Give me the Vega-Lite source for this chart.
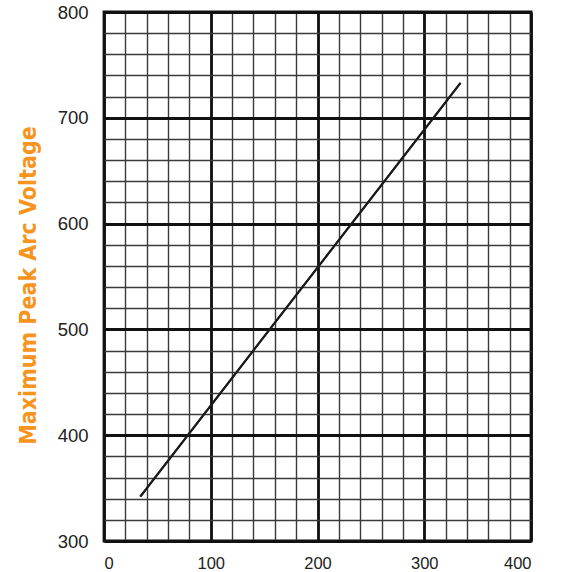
{
  "$schema": "https://vega.github.io/schema/vega-lite/v6.json",
  "autosize": "none",
  "padding": {"left": 104, "top": 12, "right": 30, "bottom": 31},
  "width": 427,
  "height": 529,
  "background": "white",
  "config": {
    "view": {"stroke": "#111111", "strokeWidth": 2.8},
    "axis": {
      "labelFont": "Liberation Sans",
      "labelColor": "#222222",
      "ticks": false,
      "domain": false,
      "gridOpacity": 1
    }
  },
  "data": {
    "values": [
      {"current": 34, "voltage": 342},
      {"current": 334, "voltage": 733}
    ]
  },
  "resolve": {"axis": {"x": "independent", "y": "independent"}},
  "layer": [
    {
      "mark": {"type": "line", "color": "#1a1a1a", "strokeWidth": 2},
      "encoding": {
        "x": {
          "field": "current",
          "type": "quantitative",
          "scale": {"domain": [0, 400], "nice": false},
          "axis": {
            "orient": "bottom",
            "values": [0, 20, 40, 60, 80, 100, 120, 140, 160, 180, 200, 220, 240, 260, 280, 300, 320, 340, 360, 380, 400],
            "title": null,
            "labels": false,
            "grid": true,
            "gridColor": "#3a3a3a",
            "gridWidth": 1.4
          }
        },
        "y": {
          "field": "voltage",
          "type": "quantitative",
          "scale": {"domain": [300, 800], "nice": false, "zero": false},
          "axis": {
            "orient": "left",
            "values": [300, 320, 340, 360, 380, 400, 420, 440, 460, 480, 500, 520, 540, 560, 580, 600, 620, 640, 660, 680, 700, 720, 740, 760, 780, 800],
            "title": null,
            "labels": false,
            "grid": true,
            "gridColor": "#3a3a3a",
            "gridWidth": 1.4
          }
        }
      }
    },
    {
      "mark": {"type": "line", "color": "#1a1a1a", "strokeWidth": 2},
      "encoding": {
        "x": {
          "field": "current",
          "type": "quantitative",
          "scale": {"domain": [0, 400], "nice": false},
          "axis": {
            "orient": "bottom",
            "values": [0, 100, 200, 300, 400],
            "title": null,
            "labelFontSize": 16.5,
            "labelPadding": 14,
            "grid": true,
            "gridColor": "#111111",
            "gridWidth": 2.8
          }
        },
        "y": {
          "field": "voltage",
          "type": "quantitative",
          "scale": {"domain": [300, 800], "nice": false, "zero": false},
          "axis": {
            "orient": "left",
            "values": [300, 400, 500, 600, 700, 800],
            "title": "Maximum Peak Arc Voltage",
            "titleFont": "DejaVu Sans Condensed, Liberation Sans Narrow, Arial Narrow, Liberation Sans, sans-serif",
            "titleFontSize": 23,
            "titleFontWeight": "bold",
            "titleColor": "#f7941d",
            "titlePadding": 17,
            "titleY": 273,
            "labelFontSize": 18.5,
            "labelPadding": 16,
            "grid": true,
            "gridColor": "#111111",
            "gridWidth": 2.8
          }
        }
      }
    }
  ]
}
